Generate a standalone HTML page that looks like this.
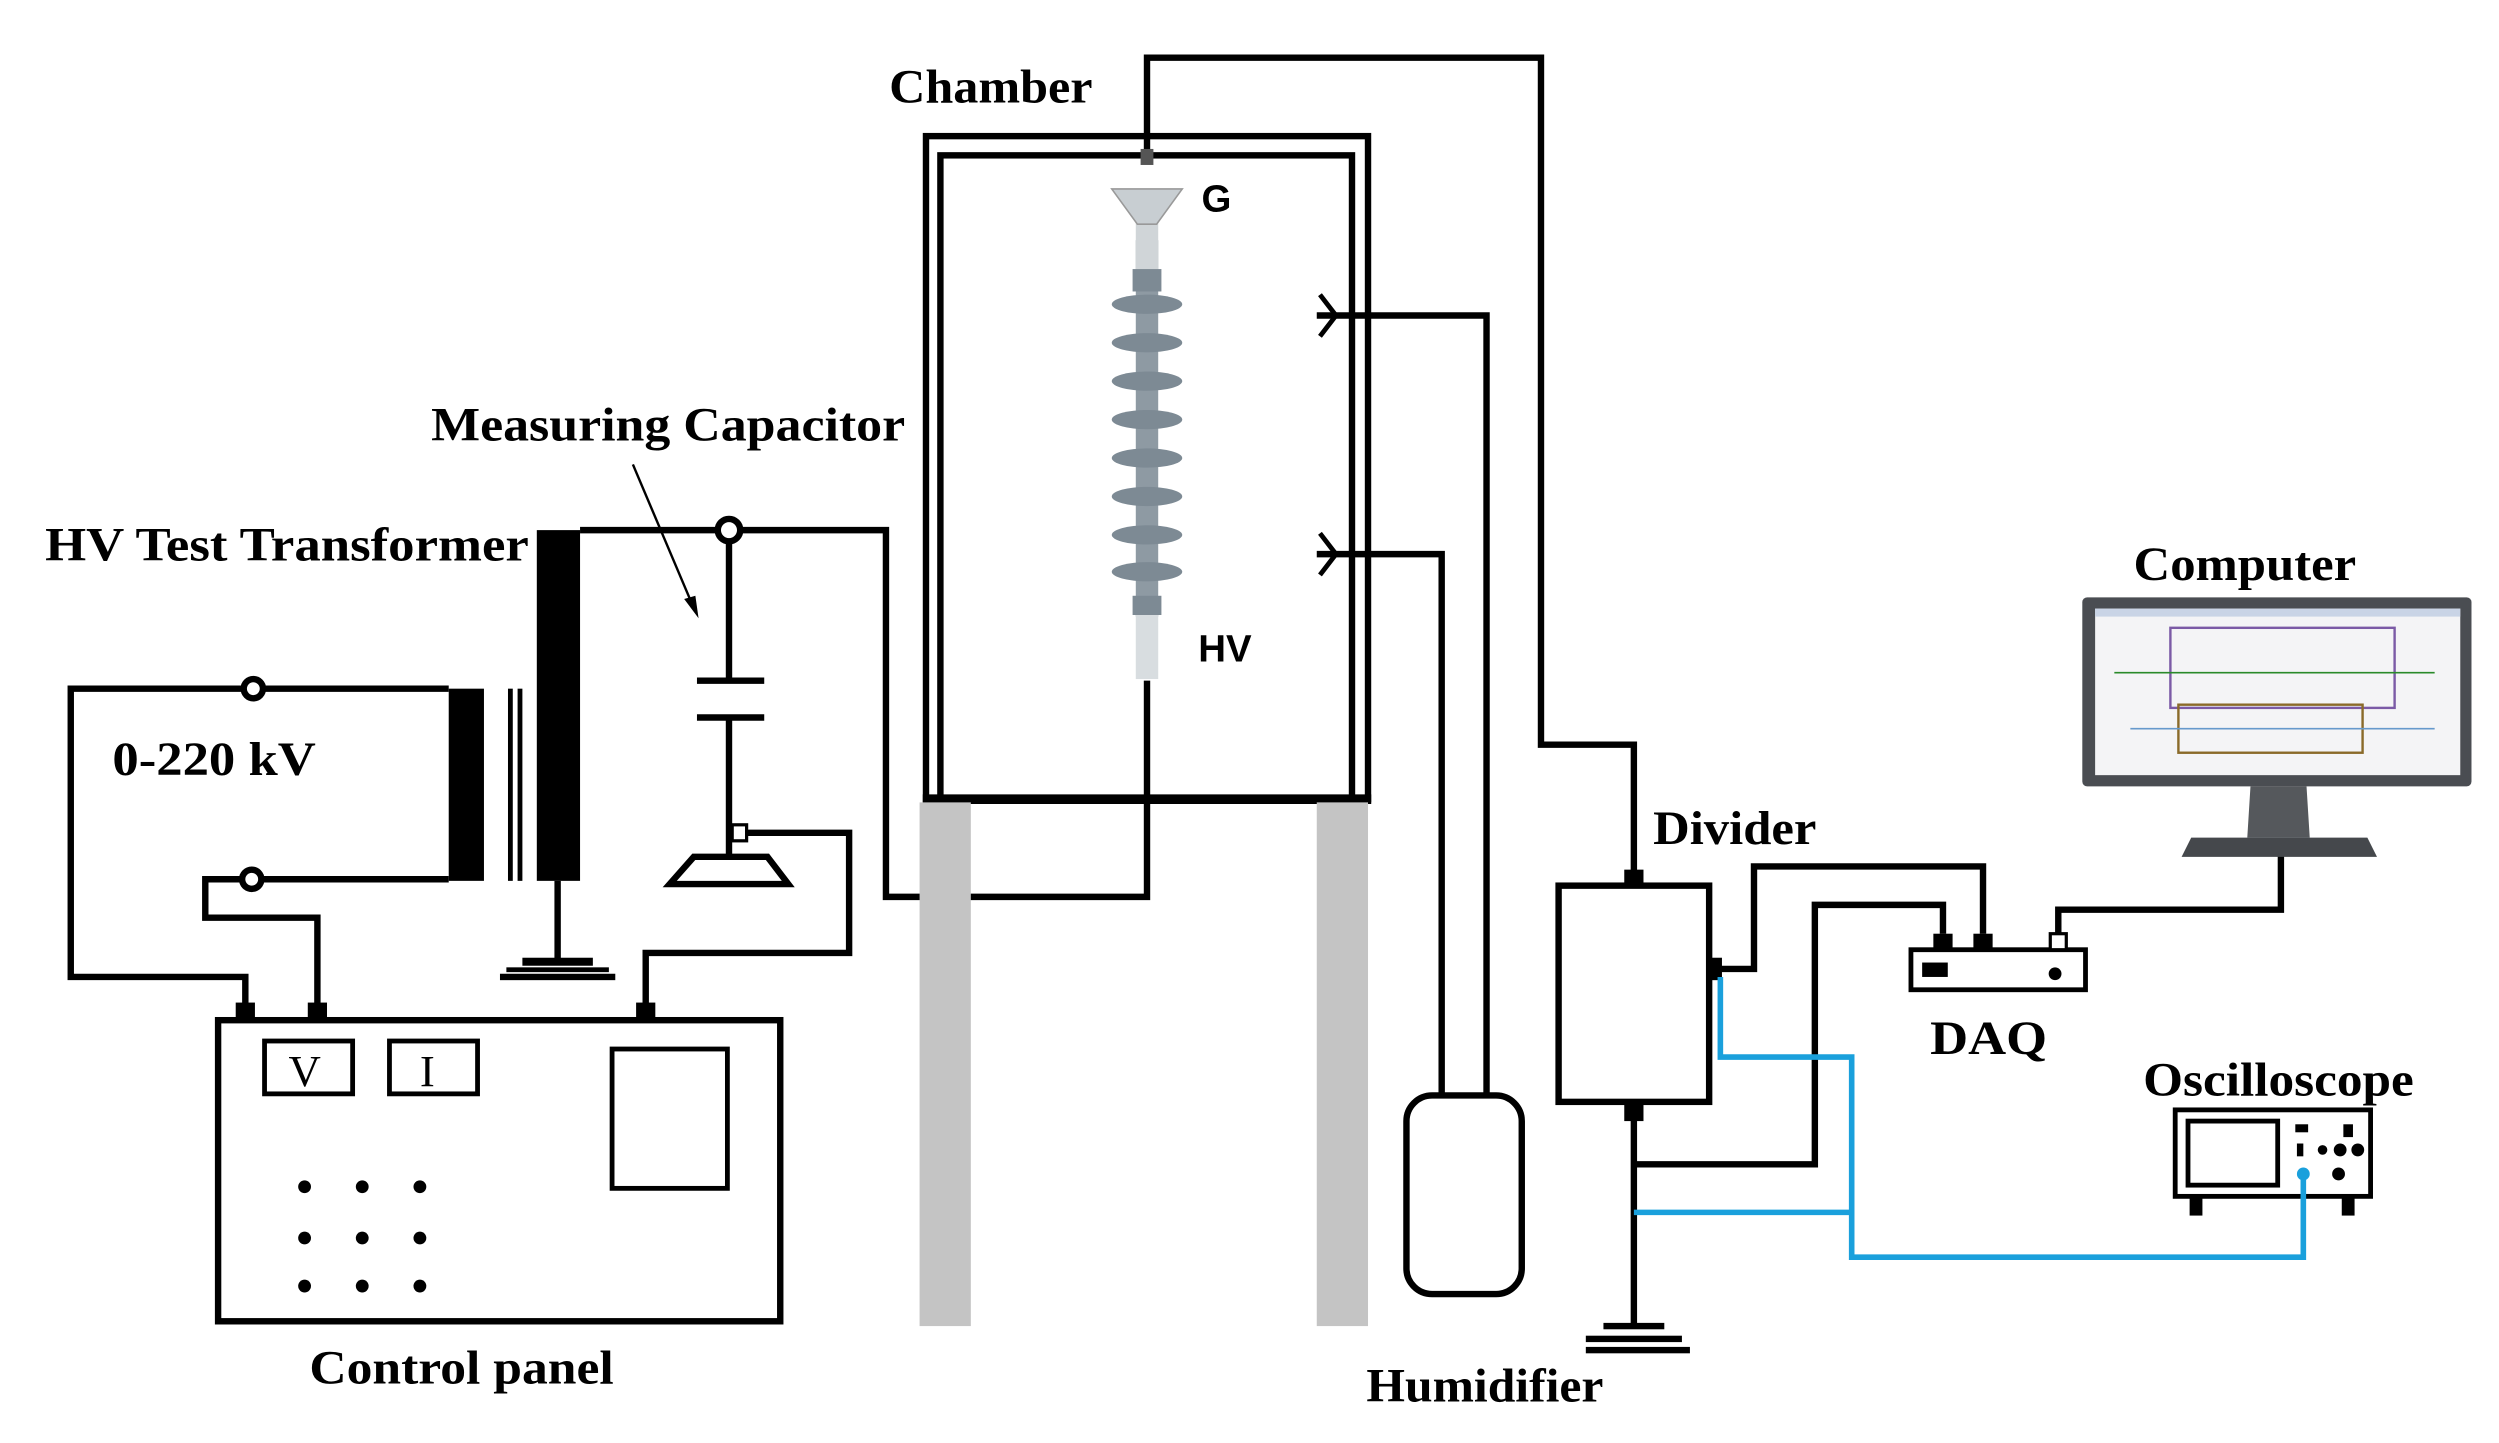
<!DOCTYPE html>
<html><head><meta charset="utf-8"><style>html,body{margin:0;padding:0;background:#fff}svg{display:block}</style></head>
<body>
<svg width="2499" height="1443" viewBox="0 0 1560 901" xmlns="http://www.w3.org/2000/svg">
<rect width="1560" height="901" fill="#fff"/>
<g font-family="Liberation Serif, serif" font-weight="bold" font-size="30" fill="#000" lengthAdjust="spacingAndGlyphs">
<text x="555" y="64" textLength="127" lengthAdjust="spacingAndGlyphs">Chamber</text>
<text x="269" y="275" textLength="296" lengthAdjust="spacingAndGlyphs">Measuring Capacitor</text>
<text x="28" y="350" textLength="302" lengthAdjust="spacingAndGlyphs">HV Test Transformer</text>
<text x="70" y="484" textLength="127" lengthAdjust="spacingAndGlyphs">0-220 kV</text>
<text x="193" y="864" textLength="190" lengthAdjust="spacingAndGlyphs">Control panel</text>
<text x="853" y="875" textLength="148" lengthAdjust="spacingAndGlyphs">Humidifier</text>
<text x="1032" y="527" textLength="102" lengthAdjust="spacingAndGlyphs">Divider</text>
<text x="1205" y="658" textLength="73" lengthAdjust="spacingAndGlyphs">DAQ</text>
<text x="1338" y="684" textLength="169" lengthAdjust="spacingAndGlyphs">Oscilloscope</text>
<text x="1332" y="362" textLength="139" lengthAdjust="spacingAndGlyphs">Computer</text>
<text x="180" y="678" font-weight="normal" font-size="28">V</text>
<text x="262" y="678" font-weight="normal" font-size="28">I</text>
</g>
<g font-family="Liberation Sans, sans-serif" font-weight="bold" font-size="24">
<text x="750" y="132">G</text><text x="748" y="413">HV</text>
</g>
<g fill="none" stroke="#000" stroke-width="4">
<rect x="578" y="85" width="276" height="414"/>
<rect x="587" y="97" width="257" height="402"/>
<line x1="576" y1="499" x2="856" y2="499" stroke-width="6"/>
<polyline points="716,100 716,36 962,36 962,465 1020,465 1020,548"/>
<polyline points="716,425 716,560 553,560 553,331 462,331"/>
<line x1="362" y1="331" x2="448" y2="331"/>
<circle cx="455" cy="331" r="7" fill="#fff"/>
<polyline points="822,197 928,197 928,684"/>
<polyline points="822,346 900,346 900,684"/>
<polyline points="824,184 834,197 824,210" stroke-width="3"/>
<polyline points="824,333 834,346 824,359" stroke-width="3"/>
<rect x="878" y="684" width="72" height="124" rx="16"/>
<polyline points="280,430 44,430 44,610 153,610 153,630"/>
<polyline points="280,549 128,549 128,573 198,573 198,630"/>
<circle cx="158" cy="430" r="6" fill="#fff"/>
<circle cx="157" cy="549" r="6" fill="#fff"/>
<line x1="455" y1="338" x2="455" y2="425"/>
<line x1="435" y1="425" x2="477" y2="425"/>
<line x1="435" y1="448" x2="477" y2="448"/>
<line x1="455" y1="448" x2="455" y2="535"/>
<polygon points="433,535 479,535 492,552 418,552"/>
<polyline points="462,520 530,520 530,595 403,595 403,630"/>
<line x1="348" y1="550" x2="348" y2="600"/>
<rect x="136" y="637" width="351" height="188"/>
<rect x="165" y="650" width="55" height="33" stroke-width="3"/>
<rect x="243" y="650" width="55" height="33" stroke-width="3"/>
<rect x="382" y="655" width="72" height="87" stroke-width="3"/>
<rect x="973" y="553" width="94" height="135"/>
<line x1="1020" y1="698" x2="1020" y2="828"/>
<polyline points="1073,605 1095,605 1095,541 1238,541 1238,583"/>
<polyline points="1020,727 1133,727 1133,565 1213,565 1213,583"/>
<polyline points="1285,583 1285,568 1424,568 1424,530"/>
<rect x="1193" y="593" width="109" height="25" stroke-width="3"/>
<rect x="1358" y="693" width="122" height="54" stroke-width="3"/>
<rect x="1366" y="700" width="56" height="40" stroke-width="3"/>
</g>
<g fill="#7d8a94">
<rect x="709" y="150" width="14" height="235" fill="#8e9aa3"/>
<rect x="707" y="168" width="18" height="14"/>
<rect x="707" y="372" width="18" height="12"/>
<ellipse cx="716" cy="190" rx="22" ry="6"/><ellipse cx="716" cy="214" rx="22" ry="6"/>
<ellipse cx="716" cy="238" rx="22" ry="6"/><ellipse cx="716" cy="262" rx="22" ry="6"/>
<ellipse cx="716" cy="286" rx="22" ry="6"/><ellipse cx="716" cy="310" rx="22" ry="6"/>
<ellipse cx="716" cy="334" rx="22" ry="6"/><ellipse cx="716" cy="357" rx="22" ry="6"/>
</g>
<rect x="709" y="384" width="14" height="40" fill="#d8dde0"/>
<rect x="709" y="130" width="14" height="38" fill="#d0d5d8"/>
<path d="M694 118 L738 118 L722 140 L710 140 Z" fill="#c8ced2" stroke="#999"/>
<rect x="712" y="93" width="8" height="10" fill="#555"/>
<rect x="280" y="430" width="22" height="120" fill="#000"/>
<rect x="317" y="430" width="3" height="120" fill="#000"/><rect x="323" y="430" width="3" height="120" fill="#000"/>
<rect x="335" y="331" width="27" height="219" fill="#000"/>
<rect x="326" y="598" width="44" height="5" fill="#000"/>
<rect x="316" y="604" width="64" height="3" fill="#000"/>
<rect x="312" y="608" width="72" height="4" fill="#000"/>
<line x1="395" y1="290" x2="434" y2="382" stroke="#000" stroke-width="1.5"/>
<polygon points="436,386 427,374 434,372" fill="#000"/>
<rect x="457" y="515" width="9" height="10" fill="#fff" stroke="#000" stroke-width="2"/>
<rect x="574" y="501" width="32" height="327" fill="#c4c4c4"/>
<rect x="822" y="501" width="32" height="327" fill="#c4c4c4"/>
<g fill="#000">
<rect x="147" y="626" width="12" height="11"/><rect x="192" y="626" width="12" height="11"/><rect x="397" y="626" width="12" height="11"/>
<rect x="1014" y="543" width="12" height="11"/><rect x="1014" y="688" width="12" height="12"/><rect x="1067" y="598" width="8" height="14"/>
<rect x="1207" y="583" width="12" height="10"/><rect x="1232" y="583" width="12" height="10"/>
<rect x="1001" y="826" width="38" height="4"/><rect x="990" y="834" width="60" height="4"/><rect x="990" y="841" width="65" height="4"/>
<circle cx="190" cy="741" r="4"/><circle cx="226" cy="741" r="4"/><circle cx="262" cy="741" r="4"/>
<circle cx="190" cy="773" r="4"/><circle cx="226" cy="773" r="4"/><circle cx="262" cy="773" r="4"/>
<circle cx="190" cy="803" r="4"/><circle cx="226" cy="803" r="4"/><circle cx="262" cy="803" r="4"/>
<rect x="1200" y="601" width="16" height="9"/><circle cx="1283" cy="608" r="4"/>
<rect x="1433" y="702" width="8" height="5"/><rect x="1463" y="702" width="6" height="8"/>
<rect x="1434" y="714" width="4" height="8"/><circle cx="1450" cy="718" r="3"/><circle cx="1461" cy="718" r="4"/><circle cx="1472" cy="718" r="4"/><circle cx="1460" cy="733" r="4"/>
<rect x="1367" y="747" width="8" height="12"/><rect x="1462" y="747" width="8" height="12"/>
</g>
<rect x="1280" y="583" width="10" height="10" fill="#fff" stroke="#000" stroke-width="2"/>
<g fill="none" stroke="#1aa0dc" stroke-width="3.5">
<polyline points="1074,610 1074,660 1156,660 1156,785 1438,785 1438,733"/>
<line x1="1020" y1="757" x2="1156" y2="757"/>
</g>
<circle cx="1438" cy="733" r="4" fill="#1aa0dc"/>
<rect x="1300" y="373" width="243" height="118" rx="3" fill="#4a4d52"/>
<rect x="1308" y="380" width="228" height="104" fill="#f4f4f6"/>
<rect x="1355" y="392" width="140" height="50" fill="none" stroke="#7b5aa6" stroke-width="1.5"/>
<rect x="1360" y="440" width="115" height="30" fill="none" stroke="#8a6a2a" stroke-width="1.5"/>
<line x1="1320" y1="420" x2="1520" y2="420" stroke="#2a8a2a" stroke-width="1"/>
<line x1="1330" y1="455" x2="1520" y2="455" stroke="#6699cc" stroke-width="1"/>
<rect x="1308" y="380" width="228" height="5" fill="#c9d4e6"/>
<path d="M1405 491 L1440 491 L1442 523 L1403 523 Z" fill="#55585c"/>
<path d="M1368 523 L1478 523 L1484 535 L1362 535 Z" fill="#45484c"/>
</svg>
</body></html>
